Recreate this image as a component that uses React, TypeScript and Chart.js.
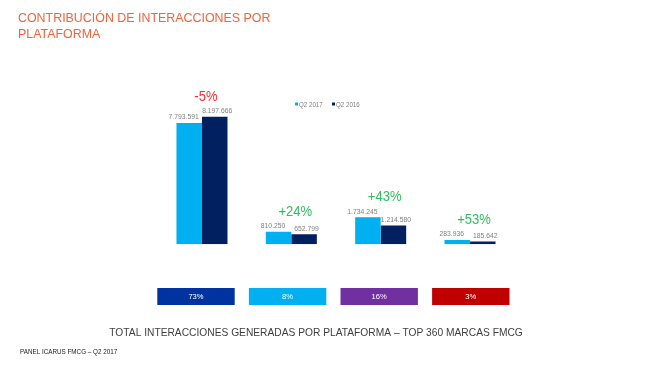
import React, { useEffect, useRef } from "react";
import { Chart, registerables } from "chart.js";

Chart.register(...registerables);

const categories = ["Facebook", "Twitter", "Instagram", "YouTube"];
const seriesNames = ["Q2 2017", "Q2 2016"];
const q2_2017 = [7793591, 810250, 1734245, 283936];
const q2_2016 = [8197666, 652799, 1214580, 185642];
const changeLabels = ["-5%", "+24%", "+43%", "+53%"];
const shareLabels = ["73%", "8%", "16%", "3%"];
const shareColors = ["#0033a0", "#00b0f0", "#7030a0", "#c00000"];
const seriesColors = ["#00b0f0", "#002060"];

const titleLines = ["CONTRIBUCIÓN DE INTERACCIONES POR", "PLATAFORMA"];
const footerText = "TOTAL INTERACCIONES GENERADAS POR PLATAFORMA – TOP 360 MARCAS FMCG";
const sourceText = "PANEL ICARUS FMCG – Q2 2017";

const FONT = "'Liberation Sans', Arial, sans-serif";

const fmt = (n: number) => String(n).replace(/\B(?=(\d{3})+(?!\d))/g, ".");

function drawText(
  ctx: CanvasRenderingContext2D,
  text: string,
  x: number,
  y: number,
  size: number,
  color: string,
  align: CanvasTextAlign,
  sx = 1,
  baseline: CanvasTextBaseline = "alphabetic"
) {
  ctx.save();
  ctx.translate(x, y);
  ctx.scale(sx, 1);
  ctx.font = `${size}px ${FONT}`;
  ctx.fillStyle = color;
  ctx.textAlign = align;
  ctx.textBaseline = baseline;
  ctx.fillText(text, 0, 0);
  ctx.restore();
}

const overlayPlugin = {
  id: "overlay",
  afterDatasetsDraw(chart: any) {
    const ctx: CanvasRenderingContext2D = chart.ctx;
    const area = chart.chartArea;
    // title
    drawText(ctx, titleLines[0], 18, 22, 13, "#f0643c", "left", 0.955);
    drawText(ctx, titleLines[1], 18, 38.3, 13, "#f0643c", "left", 0.955);

    // value labels
    const offsets = [-5.5, 2.5];
    const metas = [chart.getDatasetMeta(0), chart.getDatasetMeta(1)];
    metas.forEach((meta: any, di: number) => {
      const data = di === 0 ? q2_2017 : q2_2016;
      meta.data.forEach((el: any, i: number) => {
        drawText(ctx, fmt(data[i]), el.x + offsets[di], el.y - 3.5, 7, "#7f7f7f", "center", 0.97);
      });
    });

    // change labels
    categories.forEach((_, i) => {
      const a = metas[0].data[i];
      const b = metas[1].data[i];
      const cx = (a.x + b.x) / 2 + 4;
      const top = Math.min(a.y, b.y) - 16;
      const neg = changeLabels[i].startsWith("-");
      drawText(ctx, changeLabels[i], cx, top, 14.5, neg ? "#ff2b2b" : "#2fbf5f", "center", 0.9);
    });

    // legend
    ctx.fillStyle = seriesColors[0];
    ctx.fillRect(295, 102.5, 3, 3);
    drawText(ctx, seriesNames[0], 299, 106.5, 6.5, "#7f7f7f", "left", 0.95);
    ctx.fillStyle = seriesColors[1];
    ctx.fillRect(332, 102.5, 3, 3);
    drawText(ctx, seriesNames[1], 336, 106.5, 6.5, "#7f7f7f", "left", 0.95);

    // platform share boxes
    shareLabels.forEach((lbl, i) => {
      const cx = area.left + 38.7 + i * 91.6;
      const w = 77.4;
      ctx.fillStyle = shareColors[i];
      ctx.fillRect(cx - w / 2, 288, w, 17);
      drawText(ctx, lbl, cx, 297, 8, "#ffffff", "center", 0.95, "middle");
    });

    // footer
    drawText(ctx, footerText, 109.3, 336.3, 11, "#404040", "left", 0.93);
    drawText(ctx, sourceText, 20, 354, 7, "#1a1a1a", "left", 0.9);
  },
};

export default function App() {
  const ref = useRef<HTMLCanvasElement | null>(null);
  useEffect(() => {
    if (!ref.current) return;
    const chart = new Chart(ref.current, {
      type: "bar",
      data: {
        labels: categories,
        datasets: [
          { label: seriesNames[0], data: q2_2017, backgroundColor: seriesColors[0], borderWidth: 0 },
          { label: seriesNames[1], data: q2_2016, backgroundColor: seriesColors[1], borderWidth: 0 },
        ],
      },
      options: {
        responsive: false,
        animation: false,
        devicePixelRatio: 1,
        layout: { padding: { left: 157.3, right: 135.3, top: 104.2, bottom: 121.7 } },
        datasets: { bar: { categoryPercentage: 0.571, barPercentage: 1 } } as any,
        scales: {
          x: { display: false, grid: { display: false } },
          y: { display: false, min: 0, max: 9000000, grid: { display: false } },
        },
        plugins: {
          legend: { display: false },
          tooltip: { enabled: false },
          title: { display: false },
        },
      },
      plugins: [overlayPlugin],
    });
    return () => chart.destroy();
  }, []);
  return (
    <div style={{ position: "fixed", left: 0, top: 0, width: 650, height: 366, background: "#ffffff" }}>
      <canvas ref={ref} width={650} height={366} style={{ display: "block", width: 650, height: 366 }} />
    </div>
  );
}
